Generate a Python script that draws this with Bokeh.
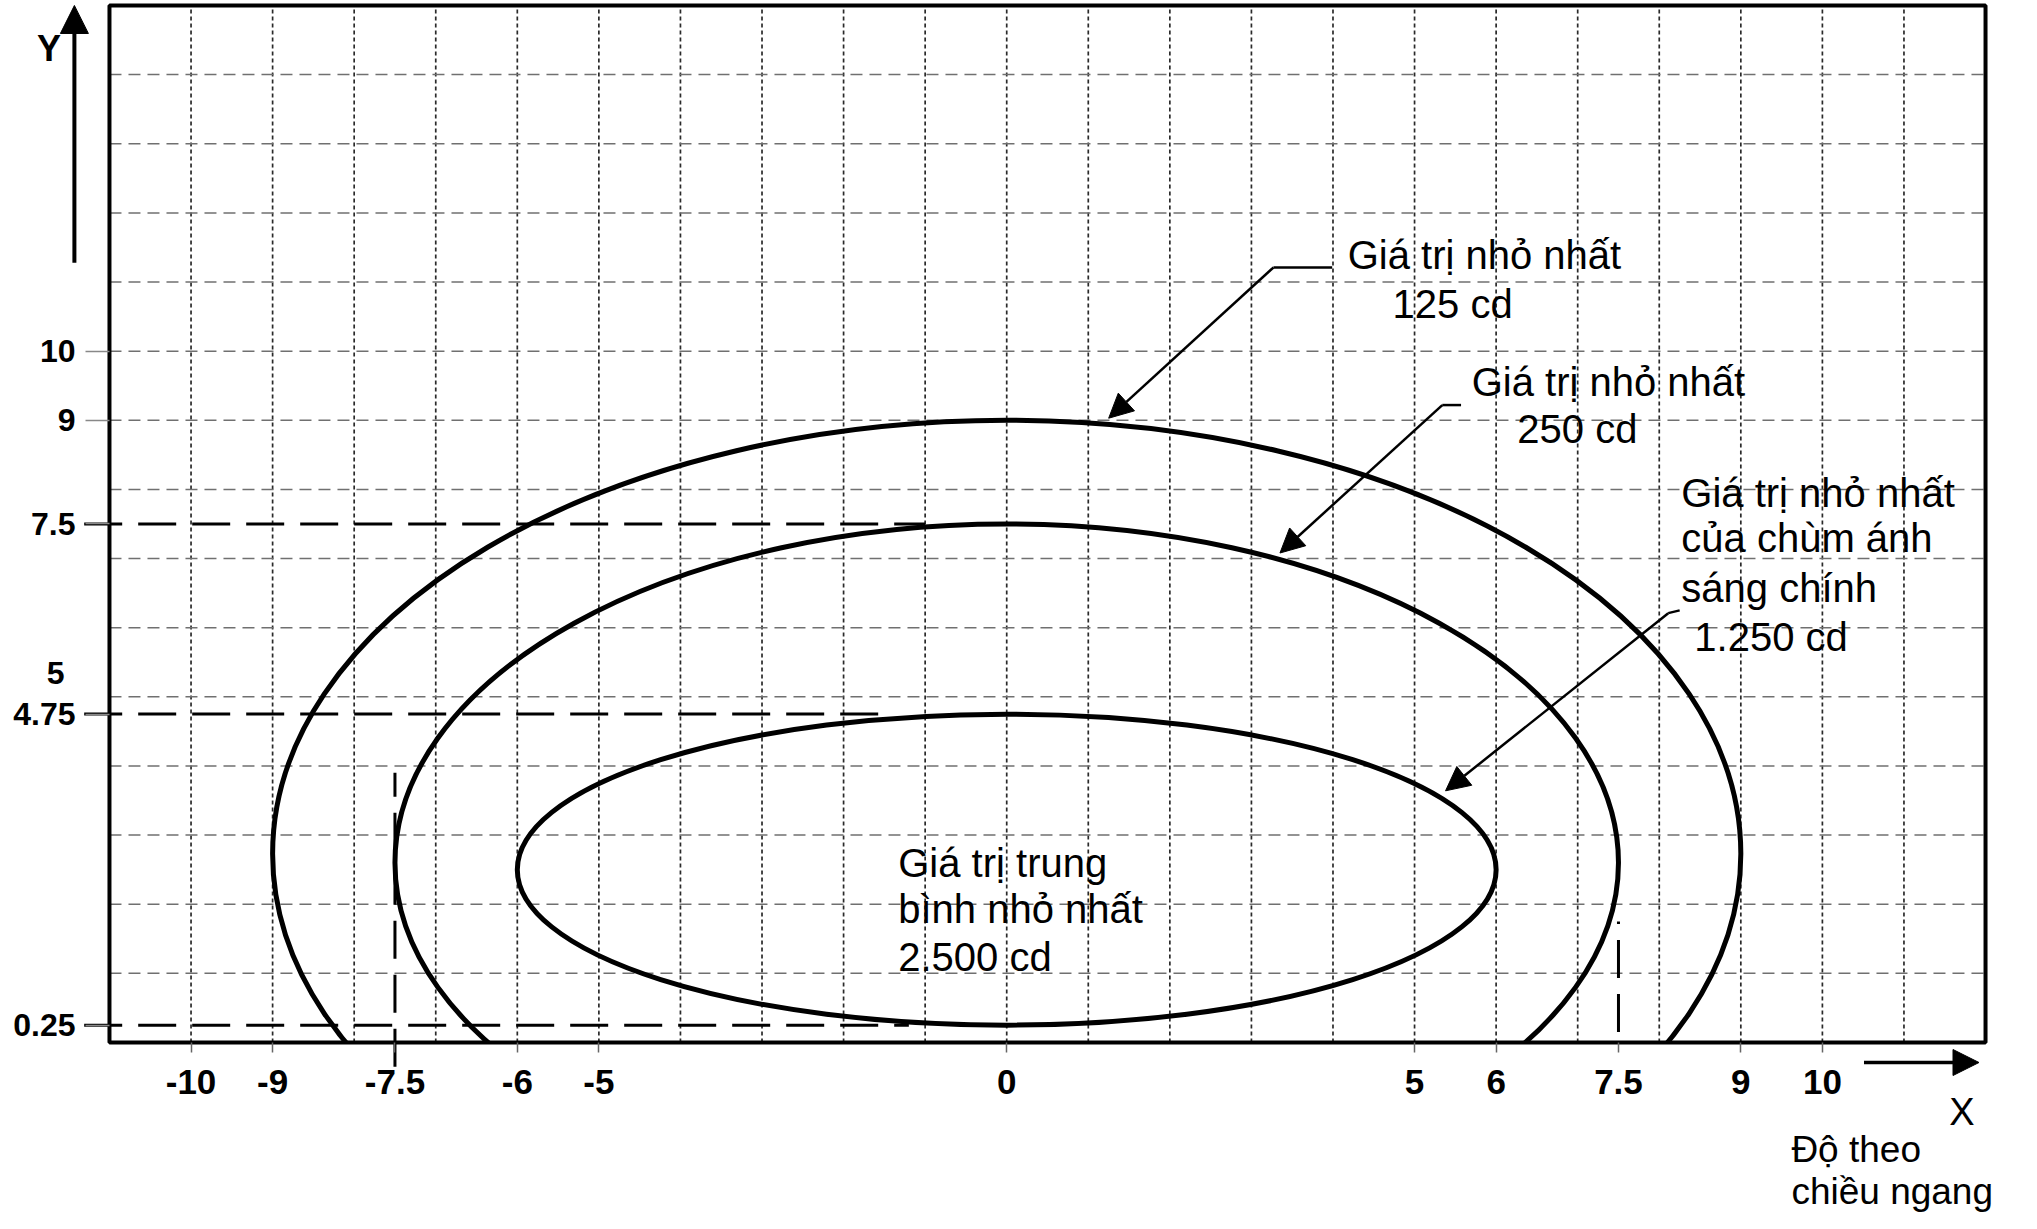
from bokeh.plotting import figure
from bokeh.models import FixedTicker, Range1d, Label, Arrow, NormalHead
from bokeh.core.properties import value
from bokeh.embed import file_html
from bokeh.resources import INLINE

# ---------------- data ----------------
x_ticks = [-10, -9, -7.5, -6, -5, 0, 5, 6, 7.5, 9, 10]
x_tick_labels = ["-10", "-9", "-7.5", "-6", "-5", "0", "5", "6", "7.5", "9", "10"]
y_ticks = [0.25, 4.75, 7.5, 9, 10]
y_tick_labels = ["0.25", "4.75", "7.5", "9", "10"]

grid_x = [-10, -9, -8, -7, -6, -5, -4, -3, -2, -1, 0, 1, 2, 3, 4, 5, 6, 7, 8, 9, 10, 11]
grid_y = [1, 2, 3, 4, 5, 6, 7, 8, 9, 10, 11, 12, 13, 14]

# chart box (degrees)
box_x = [-11.0, 12.0]
box_y = [0.0, 15.0]

# iso-candela contours (elliptical), cut by the lower edge of the box
contour_cd = ["125 cd", "250 cd", "1.250 cd"]
contour_cx = [0.0, 0.0, 0.0]
contour_cy = [2.73, 2.6, 2.5]
contour_w = [18.0, 15.0, 12.0]
contour_h = [12.54, 9.8, 4.5]

# dashed reference lines
ref_h_y = [7.5, 4.75, 0.25]
ref_h_x0 = [-11.31, -11.31, -11.31]
ref_h_x1 = [-1.0, -1.5, -1.2]
ref_v_x = [-7.5, 7.5]
ref_v_y0 = [-0.35, 0.15]
ref_v_y1 = [3.9, 1.75]

# ---------------- figure ----------------
X0, X1 = -12.336, 12.441
Y0, Y1 = -2.474, 15.072
p = figure(width=2021, height=1213, output_backend="svg", toolbar_location=None,
           x_range=Range1d(X0, X1), y_range=Range1d(Y0, Y1), min_border=0)
p.background_fill_color = "white"
p.border_fill_color = "white"
p.outline_line_color = None
p.grid.visible = False

# axes placed on the box edges
tick_font = "Liberation Sans"
p.xaxis.fixed_location = box_y[0]
p.yaxis.fixed_location = box_x[0]
p.xaxis.ticker = FixedTicker(ticks=x_ticks)
p.xaxis.major_label_overrides = {t: s for t, s in zip(x_ticks, x_tick_labels)}
p.yaxis.ticker = FixedTicker(ticks=y_ticks)
p.yaxis.major_label_overrides = {t: s for t, s in zip(y_ticks, y_tick_labels)}
for ax in (p.xaxis, p.yaxis):
    ax.axis_line_color = None
    ax.minor_tick_line_color = None
    ax.major_tick_in = 0
    ax.major_label_text_font = tick_font
    ax.major_label_text_font_style = "bold"
    ax.major_label_text_color = "black"
p.xaxis.major_label_text_font_size = "35px"
p.yaxis.major_label_text_font_size = "32px"
p.xaxis.major_tick_out = 10
p.xaxis.major_tick_line_color = "#666666"
p.xaxis.major_tick_line_width = 1.5
p.xaxis.major_label_standoff = 18
p.yaxis.major_tick_out = 24
p.yaxis.major_tick_line_color = "#888888"
p.yaxis.major_tick_line_width = 1.5
p.yaxis.major_label_standoff = 10

# grid lines inside the box
p.segment(x0=grid_x, y0=[box_y[0]] * len(grid_x), x1=grid_x, y1=[box_y[1]] * len(grid_x),
          line_color="#2a2a2a", line_width=1.7, line_dash="4 3")
p.segment(x0=[box_x[0]] * len(grid_y), y0=grid_y, x1=[box_x[1]] * len(grid_y), y1=grid_y,
          line_color="#707070", line_width=1.5, line_dash="12 7")

# contours
p.ellipse(x=contour_cx, y=contour_cy, width=contour_w, height=contour_h,
          fill_color=None, line_color="black", line_width=5)

# white mask below the box (contours end at its lower edge)
p.quad(left=[X0], right=[X1], bottom=[Y0], top=[box_y[0]],
       fill_color="white", line_color=None)

# dashed reference lines
p.segment(x0=ref_h_x0, y0=ref_h_y, x1=ref_h_x1, y1=ref_h_y,
          line_color="black", line_width=3, line_dash="38 16")
p.segment(x0=ref_v_x, y0=ref_v_y0, x1=ref_v_x, y1=ref_v_y1,
          line_color="black", line_width=3, line_dash="38 16")

# box
p.quad(left=[box_x[0]], right=[box_x[1]], bottom=[box_y[0]], top=[box_y[1]],
       fill_color=None, line_color="black", line_width=4)

# annotation texts
font = value("Liberation Sans")
ann_x = [4.18, 4.73, 5.70, 6.26, 8.27, 8.27, 8.27, 8.43, -1.33, -1.33, -1.33]
ann_y = [11.39, 10.68, 9.55, 8.87, 7.95, 7.30, 6.58, 5.87, 2.60, 1.93, 1.23]
ann_t = ["Giá trị nhỏ nhất", "125 cd",
         "Giá trị nhỏ nhất", "250 cd",
         "Giá trị nhỏ nhất", "của chùm ánh", "sáng chính", "1.250 cd",
         "Giá trị trung", "bình nhỏ nhất", "2.500 cd"]
p.text(x=ann_x, y=ann_y, text=ann_t, text_font=font, text_font_size="40px",
       text_color="black", text_align="left", text_baseline="middle")

# leader lines with arrows
p.segment(x0=[3.99, 5.57, 8.11], y0=[11.21, 9.22, 6.21],
          x1=[3.27, 5.34, 8.25], y1=[11.21, 9.22, 6.25],
          line_color="black", line_width=2.5)
for xs, ys, xe, ye in [(3.27, 11.21, 1.25, 9.03),
                       (5.34, 9.22, 3.35, 7.08),
                       (8.11, 6.21, 5.38, 3.64)]:
    p.add_layout(Arrow(x_start=xs, y_start=ys, x_end=xe, y_end=ye,
                       line_color="black", line_width=2.5,
                       end=NormalHead(size=24, fill_color="black", line_color="black")))

# axis direction arrows
p.add_layout(Arrow(x_start=-11.43, y_start=11.28, x_end=-11.43, y_end=15.0,
                   line_color="black", line_width=4,
                   end=NormalHead(size=28, fill_color="black", line_color="black")))
p.add_layout(Arrow(x_start=10.51, y_start=-0.29, x_end=11.92, y_end=-0.29,
                   line_color="black", line_width=3.5,
                   end=NormalHead(size=26, fill_color="black", line_color="black")))

p.add_layout(Label(x=-11.74, y=14.38, text="Y", text_font=tick_font, text_font_style="bold",
                   text_color="black", text_font_size="36px",
                   text_align="center", text_baseline="middle"))
p.add_layout(Label(x=11.71, y=-1.01, text="X", text_font=tick_font, text_color="black",
                   text_font_size="38px", text_align="center", text_baseline="middle"))
p.add_layout(Label(x=9.62, y=-1.55, text="Độ theo", text_font="Liberation Sans",
                   text_color="black", text_font_size="37px",
                   text_align="left", text_baseline="middle"))
p.add_layout(Label(x=9.62, y=-2.15, text="chiều ngang", text_font="Liberation Sans",
                   text_color="black", text_font_size="37px",
                   text_align="left", text_baseline="middle"))
p.add_layout(Label(x=-11.55, y=5.35, text="5", text_font=tick_font, text_font_style="bold",
                   text_color="black", text_font_size="32px",
                   text_align="right", text_baseline="middle"))

open("out.html", "w").write(file_html(p, INLINE))
